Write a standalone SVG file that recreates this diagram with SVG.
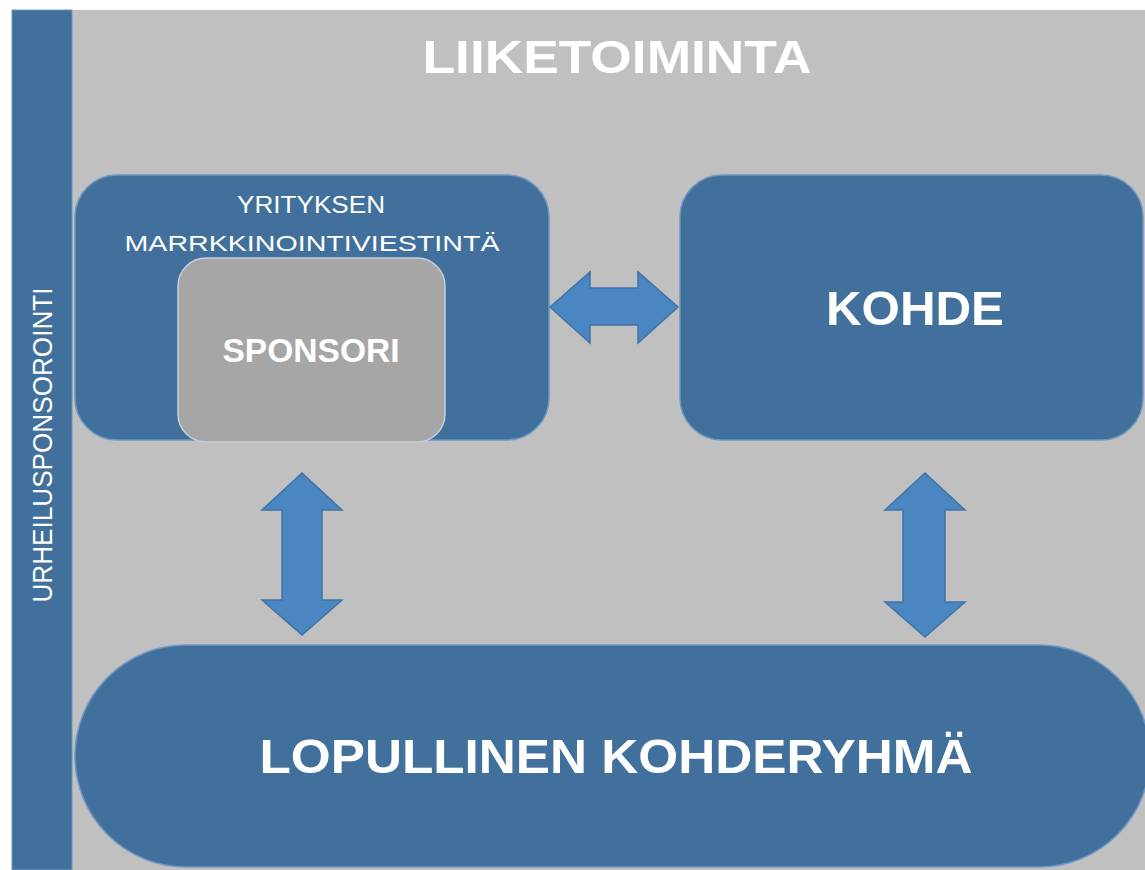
<svg xmlns="http://www.w3.org/2000/svg" width="1145" height="870" viewBox="0 0 1145 870">
<style>
.t{font-family:"Liberation Sans","Open Sans",sans-serif;fill:#ffffff}
.b{font-weight:bold}
.box{fill:#41709c;stroke:#6f97c2;stroke-width:1.5}
.arr{fill:#4a87c2;stroke:#3f73a6;stroke-width:1.5;stroke-linejoin:miter}
</style>
<rect x="0" y="0" width="1145" height="870" fill="#ffffff"/>
<rect x="12" y="10" width="1133" height="860" fill="#c0c0c0"/>
<g id="urheilusponsorointi">
<rect x="12" y="10" width="60" height="860" fill="#41709c" stroke="#6f97c2" stroke-width="1"/>
<text class="t" x="0" y="0" transform="translate(52,445) rotate(-90)" text-anchor="middle" font-size="27" textLength="315" lengthAdjust="spacingAndGlyphs">URHEILUSPONSOROINTI</text>
</g>
<g id="liiketoiminta">
<text class="t b" x="617" y="73" text-anchor="middle" font-size="47" textLength="389" lengthAdjust="spacingAndGlyphs">LIIKETOIMINTA</text>
</g>
<g id="yritys">
<rect class="box" x="75" y="175" width="474" height="265" rx="42"/>
<text class="t" x="311" y="213" text-anchor="middle" font-size="24" textLength="148" lengthAdjust="spacingAndGlyphs">YRITYKSEN</text>
<text class="t" x="312" y="251" text-anchor="middle" font-size="22" textLength="375" lengthAdjust="spacingAndGlyphs">MARRKKINOINTIVIESTINTÄ</text>
</g>
<g id="sponsori">
<rect x="178" y="258" width="267" height="184" rx="28" fill="#a6a6a6" stroke="#c4cfdc" stroke-width="1.5"/>
<text class="t b" x="311" y="362" text-anchor="middle" font-size="34" textLength="177" lengthAdjust="spacingAndGlyphs">SPONSORI</text>
</g>
<g id="kohde">
<rect class="box" x="680" y="175" width="463" height="265" rx="42"/>
<text class="t b" x="915" y="325" text-anchor="middle" font-size="48" textLength="178" lengthAdjust="spacingAndGlyphs">KOHDE</text>
</g>
<g id="kohderyhma">
<rect class="box" x="75" y="645" width="1075" height="222" rx="111"/>
<text class="t b" x="616" y="773" text-anchor="middle" font-size="48" textLength="713" lengthAdjust="spacingAndGlyphs">LOPULLINEN KOHDERYHMÄ</text>
</g>
<g id="connectors">
<polygon class="arr" points="550,307 590,272 590,288 638,288 638,272 678,307 638,343 638,325 590,325 590,343"/>
<polygon class="arr" points="302,473 342,510 322,510 322,600 342,600 302,635 262,600 282,600 282,510 262,510"/>
<polygon class="arr" points="925,473 965,510 945,510 945,602 965,602 925,637 885,602 903,602 903,510 885,510"/>
</g>
</svg>
